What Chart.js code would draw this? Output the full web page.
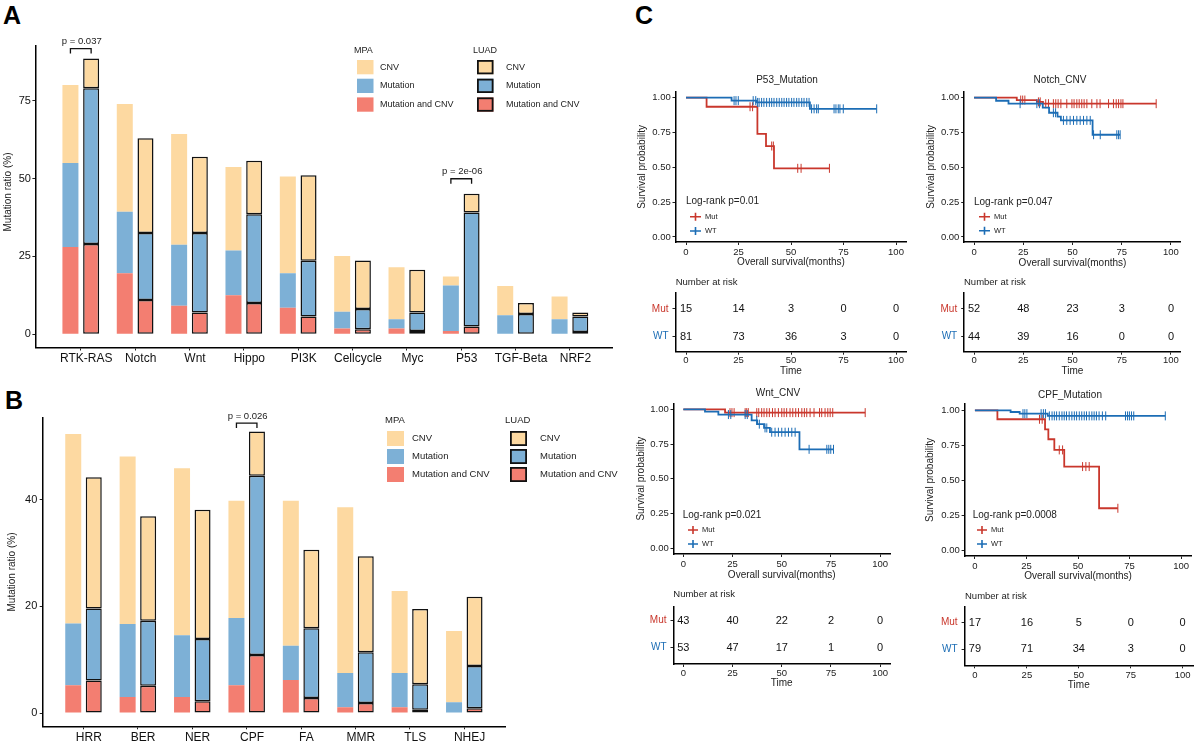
<!DOCTYPE html>
<html>
<head>
<meta charset="utf-8">
<title>Pathway mutation ratio and survival</title>
<script src="https://cdn.jsdelivr.net/npm/chart.js@4.4.1/dist/chart.umd.min.js"></script>
<style>
  html, body { margin: 0; padding: 0; background: #fff; }
  #fig { position: relative; width: 1197px; height: 743px; overflow: hidden; background: #fff; }
  #fig canvas { position: absolute; }
  .tag { position: absolute; font: bold 25px/25px "Liberation Sans", Arial, sans-serif; color: #000; }
</style>
</head>
<body>
<div id="fig">
  <div class="tag" style="left:3px;top:3px">A</div>
  <div class="tag" style="left:5px;top:388px">B</div>
  <div class="tag" style="left:635px;top:3px">C</div>
</div>
<script>
// ---- panel A : signalling pathways (%), stacked Mutation and CNV / Mutation / CNV
var pathwaysA = ['RTK-RAS', 'Notch', 'Wnt', 'Hippo', 'PI3K', 'Cellcycle', 'Myc', 'P53', 'TGF-Beta', 'NRF2'];
var mpaBothA  = [28.0, 19.6, 9.1, 12.5, 8.5, 1.8, 1.8, 1.0, 0, 0];
var mpaMutA   = [27.0, 19.7, 19.6, 14.4, 11.1, 5.4, 3.0, 14.6, 6.1, 4.8];
var mpaCnvA   = [25.0, 34.6, 35.6, 26.8, 31.0, 17.9, 16.7, 2.9, 9.4, 7.3];
var luadBothA = [29.0, 11.0, 7.0, 10.0, 5.7, 1.6, 1.0, 2.5, 0, 0.7];
var luadMutA  = [50.0, 21.5, 25.5, 28.5, 17.9, 6.5, 6.0, 36.6, 6.5, 5.0];
var luadCnvA  = [9.5, 30.4, 24.5, 17.2, 27.4, 15.6, 13.7, 6.0, 3.5, 1.3];
var yTicksA   = [0, 25, 50, 75];
var pCatsA    = [1, 8];
var pTextsA   = ['p = 0.037', 'p = 2e-06'];

// ---- panel B : DNA repair pathways (%)
var pathwaysB = ['HRR', 'BER', 'NER', 'CPF', 'FA', 'MMR', 'TLS', 'NHEJ'];
var mpaBothB  = [5.2, 3.0, 3.0, 5.2, 6.2, 1.1, 1.1, 0];
var mpaMutB   = [11.6, 13.7, 11.6, 12.6, 6.4, 6.4, 6.4, 2.0];
var mpaCnvB   = [35.5, 31.4, 31.3, 22.0, 27.2, 31.1, 15.4, 13.4];
var luadBothB = [6.1, 5.1, 2.2, 10.9, 2.8, 1.9, 0.6, 0.9];
var luadMutB  = [13.5, 12.2, 11.7, 33.6, 13.1, 9.5, 4.8, 7.9];
var luadCnvB  = [24.6, 19.6, 24.2, 8.3, 14.7, 18.0, 14.1, 13.0];
var yTicksB   = [0, 20, 40];
var pCatsB    = [4];
var pTextsB   = ['p = 0.026'];

// ---- panel C : Kaplan-Meier curves, [time, survival after the drop]
var timeTicks = [0, 25, 50, 75, 100];
var survTicks = [0, 0.25, 0.5, 0.75, 1];
var kmTitles  = ['P53_Mutation', 'Notch_CNV', 'Wnt_CNV', 'CPF_Mutation'];
var logrankP  = ['0.01', '0.047', '0.021', '0.0008'];

var p53MutSteps = [[0, 1], [9.8, 0.935], [34, 0.74], [38.1, 0.653], [41.9, 0.493], [68.3, 0.493]];
var p53MutCens  = [30.5, 31.7, 40.8, 41.6, 53.2, 54.8, 68.3];
var p53WtSteps  = [[0, 1], [21.7, 0.979], [33.5, 0.966], [59, 0.92], [90.8, 0.92]];
var p53WtCens   = [22.9, 23.8, 24.9, 32, 33.2, 34, 34.8, 36, 37.1, 38.4, 39.7, 40.8, 41.9, 43.2, 44.4, 45.6,
                   46.7, 47.9, 49, 50.3, 51.4, 52.7, 53.8, 55.1, 56.2, 57.5, 58.6, 59.8, 61, 62.2, 63,
                   70.5, 71.4, 72.5, 73.3, 74.9, 90.8];

var notchMutSteps = [[0, 1], [21.7, 0.983], [31.9, 0.97], [35, 0.957], [92.5, 0.957]];
var notchMutCens  = [23.7, 24.7, 25.8, 32.7, 33.6, 36.4, 37.8, 40.3, 41.5, 42.7, 44.1, 47.1, 49.7, 50.8, 52.2,
                     53.4, 54.7, 55.9, 57.3, 59.8, 62.4, 64, 68.3, 70.8, 72.2, 73.4, 74.6, 75.6, 92.5];
var notchWtSteps  = [[0, 1], [11.2, 0.978], [17.5, 0.957], [34.9, 0.928], [38.1, 0.892], [42.4, 0.864],
                     [44.1, 0.837], [60.2, 0.734], [74.2, 0.734]];
var notchWtCens   = [23.4, 31.9, 33.2, 40.3, 41.4, 45.4, 47.1, 48.8, 50.5, 52.2, 53.9, 55.6, 57.3, 59,
                     60.7, 64.1, 72.5, 73.4, 74.2];

var wntMutSteps = [[0, 1], [21.2, 0.976], [92.4, 0.976]];
var wntMutCens  = [23.7, 24.7, 25.8, 31.4, 32.2, 33, 37.3, 38.3, 39.8, 41, 42.4, 43.7, 45.3, 46.6, 48.3, 50,
                   51.2, 52.5, 54.2, 55.6, 57.1, 58.5, 60.2, 61.5, 62.7, 64.4, 66.4, 69.2, 70.3, 72, 73.4,
                   74.6, 75.9, 92.4];
var wntWtSteps  = [[0, 1], [11, 0.983], [17.8, 0.962], [34.7, 0.92], [37.5, 0.893], [41, 0.866],
                   [44, 0.835], [59, 0.712], [76.3, 0.712]];
var wntWtCens   = [22.9, 24.1, 31.4, 32.5, 37.3, 38.6, 41.5, 42.4, 44.9, 46.6, 48.3, 50, 51.7, 53.4, 55.1,
                   56.8, 63.9, 72.9, 73.9, 74.9, 76.3];

var cpfMutSteps = [[0, 1], [10.9, 0.936], [34, 0.864], [35.6, 0.793], [38.5, 0.717], [43.3, 0.598],
                   [60.2, 0.3], [69.3, 0.3]];
var cpfMutCens  = [31.3, 32.6, 40.9, 42.5, 52.2, 53.8, 55.4, 69.3];
var cpfWtSteps  = [[0, 1], [17.3, 0.988], [21.7, 0.976], [35.3, 0.96], [92.3, 0.96]];
var cpfWtCens   = [23.3, 24.2, 25.2, 32.1, 33.2, 34.2, 36.1, 37.4, 38.5, 39.6, 40.9, 42.2, 43.3, 44.4, 45.7,
                   47, 48.2, 49.3, 50.6, 51.8, 53, 54.1, 55.4, 56.7, 57.8, 58.9, 60.2, 61.8, 63.4, 73, 74,
                   74.9, 75.9, 77, 92.3];

// number at risk at timeTicks
var p53RiskMut   = [15, 14, 3, 0, 0];
var p53RiskWt    = [81, 73, 36, 3, 0];
var notchRiskMut = [52, 48, 23, 3, 0];
var notchRiskWt  = [44, 39, 16, 0, 0];
var wntRiskMut   = [43, 40, 22, 2, 0];
var wntRiskWt    = [53, 47, 17, 1, 0];
var cpfRiskMut   = [17, 16, 5, 0, 0];
var cpfRiskWt    = [79, 71, 34, 3, 0];

var RED = '#C9372C', BLUE = '#1C6DB5';
var C_CNV = '#FDD9A1', C_MUT = '#7DB0D6', C_BOTH = '#F37E71';
var FONT = '"Liberation Sans", Arial, Helvetica, sans-serif';
Chart.defaults.font.family = FONT;
Chart.defaults.color = '#1a1a1a';
Chart.defaults.animation = false;

// canvas placed so that its chart area lands on [L,T,R,B] of the page
function frame(L, T, R, B, cx, cy, cw, ch) {
  var c = document.createElement('canvas');
  c.width = cw; c.height = ch;
  c.style.left = cx + 'px'; c.style.top = cy + 'px';
  c.style.width = cw + 'px'; c.style.height = ch + 'px';
  document.getElementById('fig').appendChild(c);
  return {
    canvas: c, cx: cx, cy: cy,
    padding: {left: 0, top: T - cy, right: cx + cw - R, bottom: 0},
    yFit: function (s) { s.width = L - cx; },
    xFit: function (s) { s.height = cy + ch - B; }
  };
}

function put(ctx, f, s, x, y, size, color, align, rot) {
  ctx.save();
  ctx.font = size + 'px ' + FONT;
  ctx.fillStyle = color || '#1a1a1a';
  ctx.textAlign = align || 'left';
  ctx.textBaseline = 'middle';
  ctx.translate(x - f.cx, y - f.cy);
  if (rot) ctx.rotate(rot);
  ctx.fillText(s, 0, 0);
  ctx.restore();
}

function fixTicks(vals) {
  return function (s) { s.ticks = vals.map(function (v) { return {value: v}; }); };
}

function axis(fit, size, pad, tl, extra) {
  var a = {
    afterFit: fit,
    ticks: {font: {size: size}, padding: pad, color: '#222', maxRotation: 0, autoSkip: false},
    grid: {drawOnChartArea: false, drawTicks: true, tickLength: tl, color: '#222', lineWidth: 1, offset: false},
    border: {display: true, color: '#000', width: 1.5}
  };
  if (extra.ticks) {
    Object.assign(a.ticks, extra.ticks);
    delete extra.ticks;
  }
  return Object.assign(a, extra);
}

function drawBars(f, o) {
  var mk = function (vals, color, stack, label, edge) {
    return {
      label: label, stack: stack,
      data: vals.map(function (v, i) { return {x: i + 1, y: v}; }),
      backgroundColor: color, borderColor: '#111',
      borderWidth: edge ? 1.5 : 0, borderSkipped: false,
      categoryPercentage: o.cp, barPercentage: o.bp
    };
  };
  var names = ['Mutation and CNV', 'Mutation', 'CNV'];
  var cols = [C_BOTH, C_MUT, C_CNV];
  var ds = [];
  o.mpa.forEach(function (v, k) { ds.push(mk(v, cols[k], 'MPA', 'MPA ' + names[k], false)); });
  o.luad.forEach(function (v, k) { ds.push(mk(v, cols[k], 'LUAD', 'LUAD ' + names[k], true)); });

  var deco = {
    id: 'barDeco',
    afterDatasetsDraw: function (chart) {
      var ctx = chart.ctx;
      put(ctx, f, 'Mutation ratio (%)', o.title[0], o.title[1], 10, '#222', 'center', -Math.PI / 2);
      // significance brackets between the two bars of a category
      o.pCats.forEach(function (c, k) {
        var i = c - 1;
        var x1 = chart.getDatasetMeta(0).data[i].x, x2 = chart.getDatasetMeta(3).data[i].x;
        var top = Math.min(chart.getDatasetMeta(2).data[i].y, chart.getDatasetMeta(5).data[i].y);
        var yl = top - o.lift[k], yt = yl - 5;
        ctx.save();
        ctx.strokeStyle = '#111'; ctx.lineWidth = 1.3;
        ctx.beginPath();
        ctx.moveTo(x1, yl); ctx.lineTo(x1, yt); ctx.lineTo(x2, yt); ctx.lineTo(x2, yl);
        ctx.stroke();
        ctx.restore();
        put(ctx, f, o.pTexts[k], (x1 + x2) / 2 + f.cx + 1, yt - 7 + f.cy, 9.5, '#222', 'center');
      });
      // legend: MPA (plain) and LUAD (outlined)
      var lg = o.legend;
      ['MPA', 'LUAD'].forEach(function (grp, g) {
        var c = lg.cols[g];
        put(ctx, f, grp, c[0], lg.ty, lg.fs, '#222');
        ['CNV', 'Mutation', 'Mutation and CNV'].forEach(function (lab, r) {
          var y = lg.top + r * lg.pitch;
          ctx.save();
          ctx.fillStyle = [C_CNV, C_MUT, C_BOTH][r];
          ctx.fillRect(c[1] - f.cx, y - f.cy, lg.bw, lg.bh);
          if (g === 1) {
            ctx.strokeStyle = '#111'; ctx.lineWidth = 1.8;
            ctx.strokeRect(c[1] - f.cx + 0.9, y - f.cy + 0.9, lg.bw - 1.8, lg.bh - 1.8);
          }
          ctx.restore();
          put(ctx, f, lab, c[2], y + lg.bh / 2, lg.fs, '#222');
        });
      });
    }
  };

  return new Chart(f.canvas, {
    type: 'bar',
    data: {datasets: ds},
    options: {
      responsive: false, animation: false, events: [],
      layout: {padding: f.padding},
      plugins: {legend: {display: false}, tooltip: {enabled: false}},
      scales: {
        x: axis(f.xFit, 12, o.xPad, 3, {
          type: 'linear', stacked: true, offset: false, min: o.xMin, max: o.xMax,
          afterBuildTicks: fixTicks(o.cats.map(function (c, i) { return i + 1; })),
          ticks: {color: '#111', labelOffset: o.labelShift, callback: function (v, i) { return o.cats[i]; }}
        }),
        y: axis(f.yFit, 11, o.yPad, 3, {
          stacked: true, min: o.yMin, max: o.yMax,
          afterBuildTicks: fixTicks(o.yTicks),
          ticks: {color: '#111'}
        })
      }
    },
    plugins: [deco]
  });
}

function survAt(steps, t) {
  var s = steps[0][1];
  steps.forEach(function (p) { if (p[0] <= t) s = p[1]; });
  return s;
}
function stepPts(steps) { return steps.map(function (p) { return {x: p[0], y: p[1]}; }); }
function censPts(steps, times) { return times.map(function (t) { return {x: t, y: survAt(steps, t)}; }); }

function drawKM(f, o) {
  var curve = function (steps, color, label) {
    return {label: label, data: stepPts(steps), stepped: 'before', borderColor: color,
            borderWidth: 1.8, pointRadius: 0, fill: false};
  };
  var ticks = function (steps, times, color, label) {
    return {label: label, data: censPts(steps, times), showLine: false, pointStyle: 'line',
            pointRotation: 90, pointRadius: 4.5, pointBorderWidth: 1, pointBorderColor: color,
            pointBackgroundColor: color, borderColor: color};
  };
  var deco = {
    id: 'kmDeco',
    afterDatasetsDraw: function (chart) {
      var ctx = chart.ctx;
      put(ctx, f, o.title, o.tx, o.ty, 10, '#222', 'center');
      put(ctx, f, 'Log-rank p=' + o.p, o.px, o.py, 10, '#222');
      [['Mut', RED, o.ly[0]], ['WT', BLUE, o.ly[1]]].forEach(function (e) {
        var y = e[2] - f.cy, x1 = o.lx[0] - f.cx, x2 = o.lx[1] - f.cx, xm = (x1 + x2) / 2;
        ctx.save();
        ctx.strokeStyle = e[1]; ctx.lineWidth = 1.6;
        ctx.beginPath();
        ctx.moveTo(x1, y); ctx.lineTo(x2, y);
        ctx.moveTo(xm, y - 4); ctx.lineTo(xm, y + 4);
        ctx.stroke();
        ctx.restore();
        put(ctx, f, e[0], o.lx[1] + 4, e[2], 7.5, '#222');
      });
    }
  };
  return new Chart(f.canvas, {
    type: 'line',
    data: {datasets: [
      curve(o.wt, BLUE, 'WT'), ticks(o.wt, o.wtC, BLUE, 'WT censored'),
      curve(o.mut, RED, 'Mut'), ticks(o.mut, o.mutC, RED, 'Mut censored')
    ]},
    options: {
      responsive: false, animation: false, events: [],
      layout: {padding: f.padding},
      plugins: {legend: {display: false}, tooltip: {enabled: false}},
      scales: {
        x: axis(f.xFit, 9.5, 1.6, 3, {
          type: 'linear', min: -5, max: 105, afterBuildTicks: fixTicks(timeTicks),
          title: {display: true, text: 'Overall survival(months)', font: {size: 10}, color: '#222',
                  padding: {top: 0, bottom: o.xTitlePad}}
        }),
        y: axis(f.yFit, 9.5, 1.8, 3, {
          type: 'linear', min: o.yMin, max: o.yMax, afterBuildTicks: fixTicks(survTicks),
          ticks: {callback: function (v) { return Number(v).toFixed(2); }},
          title: {display: true, text: 'Survival probability', font: {size: 10}, color: '#222',
                  padding: {top: o.yTitlePad, bottom: 0}}
        })
      }
    },
    plugins: [deco]
  });
}

function drawRisk(f, o) {
  var row = function (vals, level, label) {
    return {label: label, data: vals.map(function (n, i) { return {x: timeTicks[i], y: level}; }),
            showLine: false, pointRadius: 0};
  };
  var deco = {
    id: 'riskDeco',
    afterDatasetsDraw: function (chart) {
      var ctx = chart.ctx;
      put(ctx, f, 'Number at risk', o.nx, o.ny, 9.5, '#222');
      [o.mut, o.wt].forEach(function (vals, k) {
        chart.getDatasetMeta(k).data.forEach(function (pt, i) {
          put(ctx, f, String(vals[i]), pt.x + f.cx, pt.y + f.cy, 11, '#111', 'center');
        });
      });
    }
  };
  return new Chart(f.canvas, {
    type: 'line',
    data: {datasets: [row(o.mut, 2, 'Mut'), row(o.wt, 1, 'WT')]},
    options: {
      responsive: false, animation: false, events: [],
      layout: {padding: f.padding},
      plugins: {legend: {display: false}, tooltip: {enabled: false}},
      scales: {
        x: axis(f.xFit, 9.5, o.xPad, 3, {
          type: 'linear', min: -5, max: 105, afterBuildTicks: fixTicks(timeTicks),
          title: {display: true, text: 'Time', font: {size: 10}, color: '#222',
                  padding: {top: 0, bottom: o.xTitlePad}}
        }),
        y: axis(f.yFit, 10, 4, 3, {
          type: 'linear', min: o.yMin, max: o.yMax, afterBuildTicks: fixTicks([1, 2]),
          ticks: {font: {size: 10}, padding: 4,
                  color: function (c) { return c.tick && c.tick.value === 2 ? RED : BLUE; },
                  callback: function (v) { return v === 2 ? 'Mut' : 'WT'; }}
        })
      }
    },
    plugins: [deco]
  });
}

// ---- panel A
drawBars(frame(35.4, 45.5, 612.7, 347.5, 0, 0, 625, 370), {
  cats: pathwaysA, mpa: [mpaBothA, mpaMutA, mpaCnvA], luad: [luadBothA, luadMutA, luadCnvA],
  yMin: -4.27, yMax: 92.7, yTicks: yTicksA, xMin: 0.165, xMax: 10.787,
  cp: 0.762, bp: 0.773, yPad: 1.5, xPad: 0.8, labelShift: 5.5, title: [8, 192],
  pCats: pCatsA, pTexts: pTextsA, lift: [5, 10],
  legend: {ty: 51, cols: [[354, 357, 380], [473, 477, 506]], top: 60, pitch: 18.7, bw: 16.5, bh: 14.3, fs: 9}
});

// ---- panel B
drawBars(frame(42.7, 418, 505.8, 726.3, 0, 370, 625, 373), {
  cats: pathwaysB, mpa: [mpaBothB, mpaMutB, mpaCnvB], luad: [luadBothB, luadMutB, luadCnvB],
  yMin: -2.49, yMax: 55.32, yTicks: yTicksB, xMin: 0.25, xMax: 8.763,
  cp: 0.754, bp: 0.78, yPad: 2.4, xPad: 0.8, labelShift: 5.3, title: [12.5, 572],
  pCats: pCatsB, pTexts: pTextsB, lift: [3.4],
  legend: {ty: 420, cols: [[385, 387, 412], [505, 510, 540]], top: 431, pitch: 18, bw: 17, bh: 15, fs: 9.5}
});

// ---- panel C, survival curves
drawKM(frame(675.5, 91.7, 906.5, 242, 632, 68, 288, 202), {
  title: kmTitles[0], tx: 787, ty: 80, p: logrankP[0], px: 686, py: 201, lx: [690, 701], ly: [216.7, 231],
  mut: p53MutSteps, mutC: p53MutCens, wt: p53WtSteps, wtC: p53WtCens,
  yMin: -0.036, yMax: 1.043, yTitlePad: 4, xTitlePad: 1.3
});
drawKM(frame(964.2, 91.7, 1180.8, 242, 920, 68, 275, 202), {
  title: kmTitles[1], tx: 1060, ty: 80, p: logrankP[1], px: 974, py: 202.7, lx: [979, 990], ly: [216.7, 230.7],
  mut: notchMutSteps, mutC: notchMutCens, wt: notchWtSteps, wtC: notchWtCens,
  yMin: -0.036, yMax: 1.043, yTitlePad: 5.7, xTitlePad: 0.7
});
drawKM(frame(673.5, 403.3, 890, 554, 630, 382, 275, 202), {
  title: kmTitles[2], tx: 778, ty: 393.3, p: logrankP[2], px: 682.7, py: 515, lx: [688, 698], ly: [530, 544],
  mut: wntMutSteps, mutC: wntMutCens, wt: wntWtSteps, wtC: wntWtCens,
  yMin: -0.041, yMax: 1.043, yTitlePad: 5.7, xTitlePad: 3
});
drawKM(frame(964.6, 404, 1193, 556, 920, 382, 277, 204), {
  title: kmTitles[3], tx: 1070, ty: 395, p: logrankP[3], px: 972.7, py: 515, lx: [977, 987], ly: [530, 544],
  mut: cpfMutSteps, mutC: cpfMutCens, wt: cpfWtSteps, wtC: cpfWtCens,
  yMin: -0.041, yMax: 1.045, yTitlePad: 4.7, xTitlePad: 3.3
});

// ---- panel C, number at risk tables
drawRisk(frame(675.5, 292.7, 906.5, 351.7, 632, 272, 288, 108), {
  mut: p53RiskMut, wt: p53RiskWt, nx: 675.7, ny: 282.7,
  yMin: 0.458, yMax: 2.588, xPad: 0.3, xTitlePad: 2.3
});
drawRisk(frame(964.2, 292.7, 1180.8, 351.7, 920, 272, 275, 108), {
  mut: notchRiskMut, wt: notchRiskWt, nx: 964, ny: 282.7,
  yMin: 0.458, yMax: 2.588, xPad: 0.3, xTitlePad: 2.3
});
drawRisk(frame(673.5, 606.7, 890, 664, 630, 586, 275, 109), {
  mut: wntRiskMut, wt: wntRiskWt, nx: 673.3, ny: 594,
  yMin: 0.396, yMax: 2.52, xPad: 0.6, xTitlePad: 5.7
});
drawRisk(frame(964.6, 606.7, 1193, 665.3, 920, 588, 277, 109), {
  mut: cpfRiskMut, wt: cpfRiskWt, nx: 965, ny: 596,
  yMin: 0.398, yMax: 2.6, xPad: 1, xTitlePad: 6
});
</script>
</body>
</html>
